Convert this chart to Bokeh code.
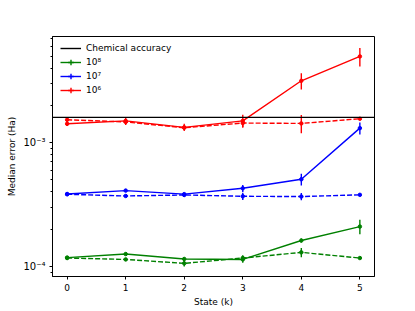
import numpy as np
from bokeh.plotting import figure
from bokeh.models import (ColumnDataSource, Range1d, FixedTicker, Span, Legend, LegendItem)
from bokeh.embed import file_html
from bokeh.resources import INLINE

# ---- data ----
states = [0, 1, 2, 3, 4, 5]
chem_acc = 1.6e-3

r_solid = [1.42e-3, 1.50e-3, 1.33e-3, 1.50e-3, 3.16e-3, 4.97e-3]
r_solid_err = [0.6e-4, 1.1e-4, 0.9e-4, 1.8e-4, 4.7e-4, 8.5e-4]
r_dash = [1.53e-3, 1.47e-3, 1.32e-3, 1.44e-3, 1.43e-3, 1.56e-3]
r_dash_err = [0.5e-4, 0.6e-4, 0.5e-4, 1.0e-4, 2.4e-4, 0.2e-4]

b_solid = [3.85e-4, 4.10e-4, 3.84e-4, 4.28e-4, 5.06e-4, 1.31e-3]
b_solid_err = [0.8e-5, 0.8e-5, 0.8e-5, 2.8e-5, 5.6e-5, 1.45e-4]
b_dash = [3.83e-4, 3.71e-4, 3.78e-4, 3.69e-4, 3.67e-4, 3.79e-4]
b_dash_err = [0.5e-5, 0.8e-5, 1.0e-5, 2.5e-5, 2.5e-5, 0.3e-5]

g_solid = [1.18e-4, 1.26e-4, 1.15e-4, 1.14e-4, 1.62e-4, 2.10e-4]
g_solid_err = [0.3e-5, 0.3e-5, 0.3e-5, 0.7e-5, 0.6e-5, 2.8e-5]
g_dash = [1.17e-4, 1.14e-4, 1.06e-4, 1.17e-4, 1.30e-4, 1.17e-4]
g_dash_err = [0.3e-5, 0.3e-5, 0.6e-5, 0.6e-5, 1.1e-5, 0.2e-5]

legend_labels = ["Chemical accuracy", "10\u2078", "10\u2077", "10\u2076"]
y_major = [1e-4, 1e-3]
y_major_labels = {1e-4: "10\u207b\u2074", 1e-3: "10\u207b\u00b3"}

FONT = "DejaVu Sans"
FS = "9px"

p = figure(width=407, height=311, output_backend="svg", toolbar_location=None,
           y_axis_type="log",
           x_range=Range1d(-0.25, 5.25), y_range=Range1d(8.3e-5, 7.2e-3),
           min_border_left=52, min_border_right=33, min_border_top=36, min_border_bottom=35)
p.grid.visible = False
p.outline_line_color = "black"
p.outline_line_width = 1
p.background_fill_color = "white"
p.border_fill_color = "white"

span = Span(location=chem_acc, dimension="width", line_color="black", line_width=1.4)
p.add_layout(span)


def series(vals, errs, color, dash):
    src = ColumnDataSource(dict(x=states, y=vals,
                                lo=[v - e for v, e in zip(vals, errs)],
                                hi=[v + e for v, e in zip(vals, errs)]))
    p.line("x", "y", source=src, line_color=color, line_width=1.4,
           line_dash=("5 2" if dash else "solid"))
    p.segment(x0="x", y0="lo", x1="x", y1="hi", source=src, line_color=color, line_width=1.4)
    p.scatter("x", "y", source=src, size=3.5, marker="circle",
              fill_color=color, line_color=color)


series(g_solid, g_solid_err, "#008000", False)
series(g_dash, g_dash_err, "#008000", True)
series(b_solid, b_solid_err, "#0000ff", False)
series(b_dash, b_dash_err, "#0000ff", True)
series(r_solid, r_solid_err, "#ff0000", False)
series(r_dash, r_dash_err, "#ff0000", True)

# legend-only renderers (a single NaN point each, never drawn)
nan_src = ColumnDataSource(dict(x=[np.nan], y=[np.nan]))
leg_items = []
lr = p.line("x", "y", source=nan_src, line_color="black", line_width=1.4)
leg_items.append(LegendItem(label=legend_labels[0], renderers=[lr]))
for lab, col in zip(legend_labels[1:], ["#008000", "#0000ff", "#ff0000"]):
    l1 = p.line("x", "y", source=nan_src, line_color=col, line_width=1.4)
    l2 = p.scatter("x", "y", source=nan_src, marker="cross", size=8, line_color=col, line_width=1.4)
    leg_items.append(LegendItem(label=lab, renderers=[l1, l2]))

legend = Legend(items=leg_items, location=(8, 179), margin=0, padding=0,
                spacing=0, label_height=14, glyph_height=14, glyph_width=21,
                label_standoff=5, label_text_font=FONT, label_text_font_size=FS,
                label_text_color="black",
                border_line_alpha=0, background_fill_alpha=0)
p.add_layout(legend)

# axes
p.xaxis.ticker = FixedTicker(ticks=states)
minor = [m * 10.0 ** e for e in (-5, -4, -3) for m in range(2, 10)]
p.yaxis.ticker = FixedTicker(ticks=y_major, minor_ticks=minor)
p.yaxis.major_label_overrides = y_major_labels

for ax in (p.xaxis, p.yaxis):
    ax.axis_line_color = "black"
    ax.major_tick_line_color = "black"
    ax.minor_tick_line_color = "black"
    ax.major_tick_in = 0
    ax.major_tick_out = 3
    ax.minor_tick_in = 0
    ax.minor_tick_out = 2
    ax.major_label_text_font = FONT
    ax.major_label_text_font_size = FS
    ax.major_label_text_color = "black"
    ax.axis_label_text_font = FONT
    ax.axis_label_text_font_size = FS
    ax.axis_label_text_color = "black"
    ax.axis_label_text_font_style = "normal"
    ax.major_label_standoff = 4
    ax.axis_label_standoff = 3

p.yaxis.major_label_text_font_size = "10px"
p.xaxis.axis_label = "State (k)"
p.yaxis.axis_label = "Median error (Ha)"
p.yaxis.major_label_orientation = "horizontal"

open("out.html", "w").write(file_html(p, INLINE))
